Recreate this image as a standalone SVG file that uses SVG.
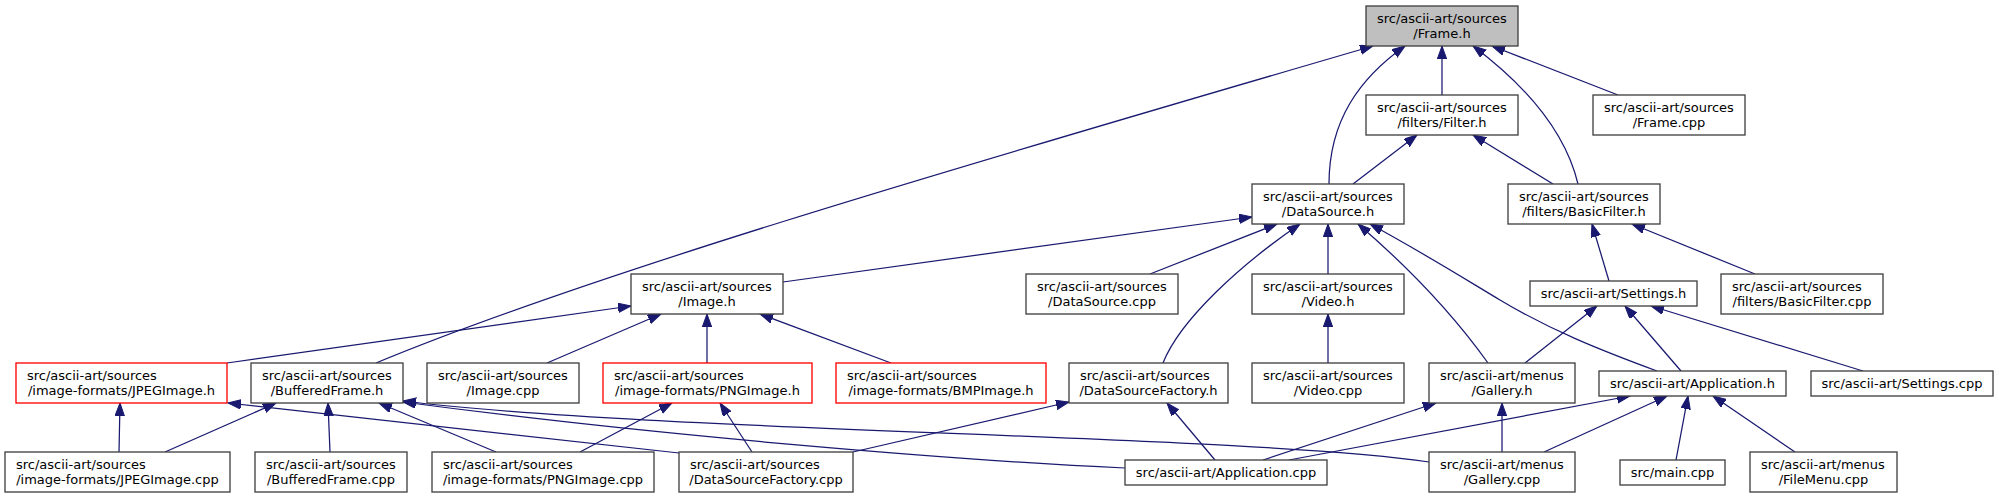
<svg xmlns="http://www.w3.org/2000/svg" width="1999" height="499" viewBox="0 0 1999 499">
<style>
.n rect{fill:#fff;stroke:#404040;stroke-width:1.33}
.n.r rect{stroke:#ff0000}
.n.root rect{fill:#bfbfbf}
.n text{font-family:"DejaVu Sans",sans-serif;font-size:13px;fill:#000}
.m{text-anchor:middle}
#edges path{fill:none;stroke:#191970;stroke-width:1.25;marker-start:url(#ah)}
</style>
<defs>
<marker id="ah" markerUnits="userSpaceOnUse" markerWidth="14" markerHeight="10" viewBox="0 0 14 10" refX="13" refY="4.7" orient="auto-start-reverse">
<path d="M0,0 L13,4.7 L0,9.4 z" fill="#191970" stroke="#191970" stroke-width="1"/>
</marker>
</defs>
<rect width="1999" height="499" fill="#fff"/>
<g id="edges">
<path d="M1373,46 C1000,155 600,270 376,363"/>
<path d="M1405,46 C1360,78 1329,120 1329,184"/>
<path d="M1442,46 L1442,95"/>
<path d="M1473,46 C1525,85 1565,130 1578,184"/>
<path d="M1492,46 L1618,95"/>
<path d="M1417,135 L1353,184"/>
<path d="M1473,135 L1553,184"/>
<path d="M1252,217 L783,282"/>
<path d="M1277,224 L1150,274"/>
<path d="M1300,224 C1240,265 1180,320 1163,363"/>
<path d="M1328,224 L1328,274"/>
<path d="M1358,224 C1400,260 1450,310 1488,363"/>
<path d="M1370,224 C1420,251 1460,276 1500,300 C1550,330 1600,350 1657,371"/>
<path d="M1592,224 L1609,281"/>
<path d="M1632,224 L1755,274"/>
<path d="M1597,306 L1525,363"/>
<path d="M1625,306 L1681,371"/>
<path d="M1651,306 L1863,371"/>
<path d="M631,306 L227,363"/>
<path d="M661,314 L547,363"/>
<path d="M707,314 L707,363"/>
<path d="M760,314 L891,363"/>
<path d="M1328,314 L1328,363"/>
<path d="M120,403 L119,452"/>
<path d="M228,403 L679,453"/>
<path d="M276,403 L165,452"/>
<path d="M328,403 L330,452"/>
<path d="M379,403 L496,452"/>
<path d="M403,402 C650,435 950,460 1125,468"/>
<path d="M403,401 C650,432 1250,435 1429,462"/>
<path d="M672,403 L580,452"/>
<path d="M720,403 L752,452"/>
<path d="M1069,402 L853,452"/>
<path d="M1167,403 L1215,460"/>
<path d="M1436,403 L1263,460"/>
<path d="M1502,403 L1502,452"/>
<path d="M1630,396 L1289,460"/>
<path d="M1667,396 L1544,452"/>
<path d="M1688,396 L1676,460"/>
<path d="M1713,396 L1795,452"/>
</g>
<g id="frame_h" class="n root"><rect x="1366" y="6" width="152" height="40"/><text x="1377" y="23">src/ascii-art/sources</text><text class="m" x="1442" y="37.5">/Frame.h</text></g>
<g id="filter_h" class="n"><rect x="1366" y="95" width="152" height="40"/><text x="1377" y="112">src/ascii-art/sources</text><text class="m" x="1442" y="126.5">/filters/Filter.h</text></g>
<g id="frame_cpp" class="n"><rect x="1593" y="95" width="152" height="40"/><text x="1604" y="112">src/ascii-art/sources</text><text class="m" x="1669" y="126.5">/Frame.cpp</text></g>
<g id="datasource_h" class="n"><rect x="1252" y="184" width="152" height="40"/><text x="1263" y="201">src/ascii-art/sources</text><text class="m" x="1328" y="215.5">/DataSource.h</text></g>
<g id="basicfilter_h" class="n"><rect x="1508" y="184" width="152" height="40"/><text x="1519" y="201">src/ascii-art/sources</text><text class="m" x="1584" y="215.5">/filters/BasicFilter.h</text></g>
<g id="image_h" class="n"><rect x="631" y="274" width="152" height="40"/><text x="642" y="291">src/ascii-art/sources</text><text class="m" x="707" y="305.5">/Image.h</text></g>
<g id="datasource_cpp" class="n"><rect x="1026" y="274" width="152" height="40"/><text x="1037" y="291">src/ascii-art/sources</text><text class="m" x="1102" y="305.5">/DataSource.cpp</text></g>
<g id="video_h" class="n"><rect x="1252" y="274" width="152" height="40"/><text x="1263" y="291">src/ascii-art/sources</text><text class="m" x="1328" y="305.5">/Video.h</text></g>
<g id="settings_h" class="n"><rect x="1530" y="281" width="167" height="25"/><text class="m" x="1613.5" y="298">src/ascii-art/Settings.h</text></g>
<g id="basicfilter_cpp" class="n"><rect x="1721" y="274" width="162" height="40"/><text x="1732" y="291">src/ascii-art/sources</text><text class="m" x="1802" y="305.5">/filters/BasicFilter.cpp</text></g>
<g id="jpegimage_h" class="n r"><rect x="16" y="363" width="211" height="40"/><text x="27" y="380">src/ascii-art/sources</text><text class="m" x="121.5" y="394.5">/image-formats/JPEGImage.h</text></g>
<g id="bufferedframe_h" class="n"><rect x="251" y="363" width="152" height="40"/><text x="262" y="380">src/ascii-art/sources</text><text class="m" x="327" y="394.5">/BufferedFrame.h</text></g>
<g id="image_cpp" class="n"><rect x="427" y="363" width="152" height="40"/><text x="438" y="380">src/ascii-art/sources</text><text class="m" x="503" y="394.5">/Image.cpp</text></g>
<g id="pngimage_h" class="n r"><rect x="603" y="363" width="209" height="40"/><text x="614" y="380">src/ascii-art/sources</text><text class="m" x="707.5" y="394.5">/image-formats/PNGImage.h</text></g>
<g id="bmpimage_h" class="n r"><rect x="836" y="363" width="210" height="40"/><text x="847" y="380">src/ascii-art/sources</text><text class="m" x="941" y="394.5">/image-formats/BMPImage.h</text></g>
<g id="datasourcefactory_h" class="n"><rect x="1069" y="363" width="159" height="40"/><text x="1080" y="380">src/ascii-art/sources</text><text class="m" x="1148.5" y="394.5">/DataSourceFactory.h</text></g>
<g id="video_cpp" class="n"><rect x="1252" y="363" width="152" height="40"/><text x="1263" y="380">src/ascii-art/sources</text><text class="m" x="1328" y="394.5">/Video.cpp</text></g>
<g id="gallery_h" class="n"><rect x="1429" y="363" width="146" height="40"/><text x="1440" y="380">src/ascii-art/menus</text><text class="m" x="1502" y="394.5">/Gallery.h</text></g>
<g id="application_h" class="n"><rect x="1599" y="371" width="187" height="25"/><text class="m" x="1692.5" y="388">src/ascii-art/Application.h</text></g>
<g id="settings_cpp" class="n"><rect x="1811" y="371" width="182" height="25"/><text class="m" x="1902" y="388">src/ascii-art/Settings.cpp</text></g>
<g id="jpegimage_cpp" class="n"><rect x="5" y="452" width="225" height="40"/><text x="16" y="469">src/ascii-art/sources</text><text class="m" x="117.5" y="483.5">/image-formats/JPEGImage.cpp</text></g>
<g id="bufferedframe_cpp" class="n"><rect x="255" y="452" width="152" height="40"/><text x="266" y="469">src/ascii-art/sources</text><text class="m" x="331" y="483.5">/BufferedFrame.cpp</text></g>
<g id="pngimage_cpp" class="n"><rect x="432" y="452" width="222" height="40"/><text x="443" y="469">src/ascii-art/sources</text><text class="m" x="543" y="483.5">/image-formats/PNGImage.cpp</text></g>
<g id="datasourcefactory_cpp" class="n"><rect x="679" y="452" width="174" height="40"/><text x="690" y="469">src/ascii-art/sources</text><text class="m" x="766" y="483.5">/DataSourceFactory.cpp</text></g>
<g id="application_cpp" class="n"><rect x="1125" y="460" width="202" height="25"/><text class="m" x="1226" y="477">src/ascii-art/Application.cpp</text></g>
<g id="gallery_cpp" class="n"><rect x="1429" y="452" width="146" height="40"/><text x="1440" y="469">src/ascii-art/menus</text><text class="m" x="1502" y="483.5">/Gallery.cpp</text></g>
<g id="main_cpp" class="n"><rect x="1620" y="460" width="105" height="25"/><text class="m" x="1672.5" y="477">src/main.cpp</text></g>
<g id="filemenu_cpp" class="n"><rect x="1750" y="452" width="147" height="40"/><text x="1761" y="469">src/ascii-art/menus</text><text class="m" x="1823.5" y="483.5">/FileMenu.cpp</text></g>
</svg>
